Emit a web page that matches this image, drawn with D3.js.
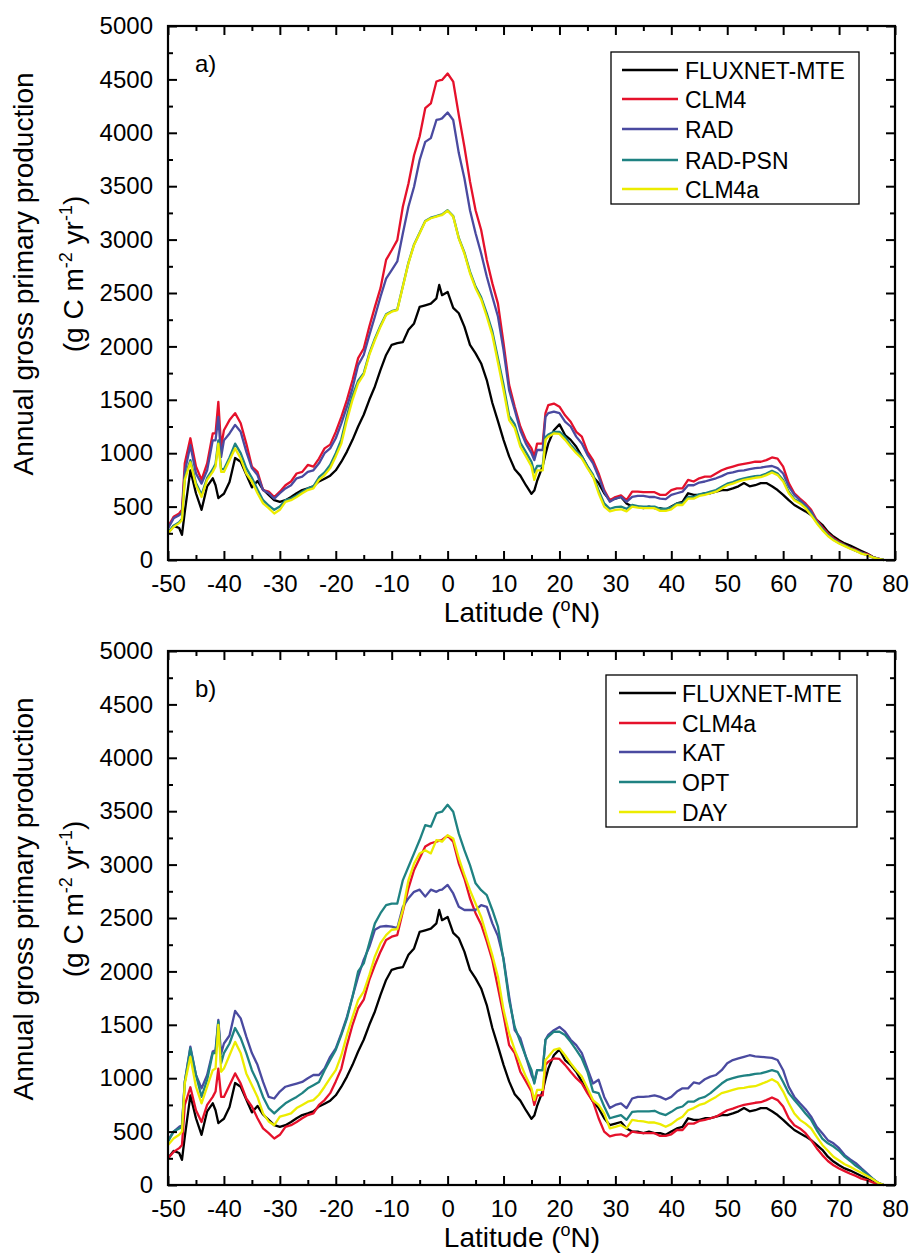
<!DOCTYPE html>
<html>
<head>
<meta charset="utf-8">
<script src="https://cdn.jsdelivr.net/npm/d3@7"></script>
<style>
  body { margin: 0; background: #fff; }
  text { font-family: "Liberation Sans", Arial, sans-serif; fill: #000; }
</style>
</head>
<body>
<div id="chart"></div>
<script>
// Latitude grid (deg N) shared by every series
const LAT = [
  -50, -49, -48, -47.5, -47, -46, -45, -44, -43, -42,
  -41.5, -41, -40.5, -40, -39, -38, -37, -36, -35, -34, -33, -32, -31, -30,
  -29, -28, -27, -26, -25, -24, -23, -22, -21, -20,
  -19, -18, -17, -16, -15, -14, -13, -12, -11, -10,
  -9, -8, -7, -6, -5, -4, -3, -2, -1.5, -1, 0,
  1, 2, 3, 4, 5, 6, 7, 8, 9, 10,
  11, 12, 13, 14, 15, 15.5, 16, 17, 17.5, 18,
  19, 20, 21, 22, 23, 24, 25, 26, 27, 28,
  29, 30, 31, 32, 33, 34, 35, 36, 37, 38,
  39, 40, 41, 42, 43, 44, 45, 46, 47, 48,
  49, 50, 51, 52, 53, 54, 55, 56, 57, 58,
  59, 60, 61, 62, 63, 64, 65, 66, 67, 68,
  69, 70, 71, 72, 73, 74, 75, 76, 77, 78
];

// Annual GPP (g C m-2 yr-1)
const FLUXNET_MTE = [
  250, 320, 300, 235, 450, 840, 625, 470, 690, 765,
  700, 580, 600, 620, 730, 955, 920, 800, 680, 740, 660, 610, 560, 545,
  560, 590, 625, 655, 670, 690, 735, 760, 790, 840,
  920, 1015, 1125, 1250, 1360, 1500, 1625, 1780, 1920, 2015,
  2030, 2040, 2155, 2215, 2370, 2385, 2400, 2450, 2575, 2480, 2510,
  2360, 2310, 2185, 2015, 1935, 1840, 1685, 1470, 1300, 1125,
  970, 850, 790, 700, 620, 650, 740, 880, 990, 1090,
  1215, 1270, 1170, 1125, 1060, 970, 875, 780, 720, 625,
  560, 575, 590, 530, 500, 500, 485, 500, 485, 485,
  470, 500, 530, 545, 625, 610, 610, 625, 625, 640,
  655, 655, 670, 690, 720, 690, 700, 720, 720, 690,
  655, 610, 560, 515, 485, 455, 420, 375, 330, 265,
  220, 185, 155, 135, 110, 85, 60, 30, 12, 0
];

const CLM4 = [
  310, 405, 435, 470, 905, 1140, 875, 750, 905, 1185,
  1185, 1480, 1060, 1215, 1310, 1375, 1280, 1090, 875, 825, 655, 640, 590, 640,
  700, 735, 810, 825, 890, 875, 950, 1045, 1080, 1200,
  1340, 1500, 1685, 1890, 1980, 2185, 2370, 2545, 2810, 2900,
  2995, 3310, 3525, 3790, 3965, 4230, 4275, 4480, 4490, 4495, 4555,
  4480, 4165, 3870, 3545, 3275, 3090, 2810, 2590, 2400, 2030,
  1640, 1435, 1250, 1125, 1045, 970, 1090, 1090, 1375, 1450,
  1465, 1435, 1355, 1295, 1200, 1155, 1015, 935, 810, 655,
  560, 590, 605, 560, 640, 640, 635, 635, 635, 610,
  610, 655, 670, 670, 750, 735, 765, 780, 780, 810,
  840, 860, 875, 890, 900, 910, 920, 920, 935, 960,
  950, 875, 720, 625, 575, 530, 470, 375, 310, 250,
  205, 170, 140, 115, 95, 70, 55, 30, 12, 0
];

const RAD = [
  295, 390, 420, 440, 825, 1075, 810, 715, 840, 1120,
  1120, 1340, 965, 1120, 1185, 1265, 1200, 1015, 860, 795, 655, 625, 575, 625,
  670, 700, 765, 780, 825, 840, 905, 1000, 1045, 1140,
  1280, 1435, 1610, 1825, 1920, 2105, 2280, 2465, 2635, 2715,
  2795, 3060, 3310, 3495, 3745, 3915, 3950, 4120, 4125, 4135, 4190,
  4120, 3810, 3575, 3275, 3060, 2870, 2655, 2465, 2280, 1965,
  1590, 1405, 1215, 1090, 1000, 935, 1030, 1030, 1340, 1375,
  1390, 1375, 1295, 1250, 1155, 1090, 985, 905, 780, 640,
  545, 575, 590, 545, 590, 600, 600, 590, 590, 575,
  570, 610, 625, 640, 700, 700, 725, 735, 750, 765,
  785, 810, 820, 835, 840, 850, 860, 865, 875, 880,
  860, 810, 690, 610, 560, 515, 455, 360, 295, 235,
  195, 160, 135, 110, 85, 70, 45, 25, 10, 0
];

const RAD_PSN = [
  260, 320, 355, 385, 770, 935, 720, 610, 770, 850,
  900, 1120, 850, 850, 960, 1090, 1000, 860, 770, 660, 560, 510, 470, 500,
  560, 575, 605, 640, 670, 690, 775, 820, 890, 1000,
  1130, 1350, 1540, 1680, 1750, 1935, 2075, 2195, 2300, 2330,
  2345, 2565, 2785, 2955, 3065, 3175, 3205, 3220, 3230, 3235, 3275,
  3220, 3015, 2880, 2700, 2560, 2460, 2310, 2140, 1890, 1640,
  1350, 1270, 1100, 1010, 920, 820, 880, 880, 1150, 1175,
  1200, 1200, 1150, 1080, 1020, 970, 880, 800, 650, 530,
  480, 495, 500, 480, 515, 505, 500, 500, 500, 480,
  480, 495, 530, 530, 590, 590, 615, 625, 640, 655,
  685, 715, 730, 750, 765, 775, 785, 790, 810, 835,
  810, 750, 640, 570, 540, 495, 430, 355, 290, 235,
  190, 160, 135, 110, 88, 63, 47, 27, 11, 0
];

const CLM4A = [
  250, 310, 345, 375, 750, 915, 700, 590, 750, 825,
  875, 1090, 825, 825, 935, 1045, 950, 810, 735, 625, 530, 485, 435, 470,
  545, 560, 590, 625, 655, 670, 750, 795, 860, 970,
  1090, 1310, 1500, 1655, 1735, 1920, 2060, 2185, 2295, 2325,
  2340, 2560, 2780, 2950, 3060, 3170, 3200, 3215, 3225, 3230, 3270,
  3215, 3010, 2870, 2685, 2545, 2440, 2280, 2105, 1850, 1590,
  1310, 1235, 1060, 970, 875, 750, 840, 840, 1125, 1155,
  1185, 1180, 1125, 1060, 1000, 950, 860, 780, 625, 500,
  455, 470, 475, 455, 500, 490, 485, 485, 485, 460,
  460, 475, 515, 515, 575, 575, 600, 610, 625, 640,
  670, 700, 715, 735, 750, 760, 770, 775, 795, 820,
  795, 735, 625, 560, 530, 485, 420, 345, 280, 225,
  185, 155, 130, 105, 85, 60, 45, 25, 10, 0
];

const KAT = [
  420, 500, 545, 560, 965, 1295, 1030, 905, 1030, 1250,
  1265, 1545, 1230, 1325, 1400, 1630, 1560, 1390, 1235, 1125, 965, 825, 810, 875,
  920, 935, 950, 965, 1000, 1030, 1030, 1090, 1200, 1280,
  1420, 1575, 1765, 1950, 2110, 2230, 2390, 2420, 2425, 2420,
  2405, 2605, 2685, 2745, 2765, 2700, 2765, 2745, 2760, 2765, 2810,
  2730, 2605, 2575, 2575, 2575, 2620, 2605, 2450, 2330, 2120,
  1765, 1450, 1375, 1200, 1030, 965, 1075, 1075, 1360, 1405,
  1450, 1480, 1435, 1360, 1310, 1235, 1090, 950, 985, 825,
  720, 750, 765, 720, 810, 825, 825, 830, 840, 825,
  800, 825, 875, 905, 905, 960, 950, 990, 1015, 1030,
  1075, 1140, 1170, 1185, 1200, 1215, 1205, 1200, 1195, 1190,
  1170, 1075, 920, 825, 765, 710, 640, 545, 485, 420,
  390, 345, 280, 240, 205, 155, 110, 60, 20, 0
];

const OPT = [
  405, 500, 530, 545, 965, 1280, 1030, 825, 985, 1235,
  1235, 1530, 1140, 1235, 1325, 1470, 1375, 1235, 1075, 965, 825, 720, 670, 720,
  765, 795, 825, 860, 905, 935, 965, 1075, 1170, 1265,
  1405, 1560, 1765, 2000, 2075, 2265, 2450, 2545, 2620, 2635,
  2635, 2855, 2980, 3105, 3230, 3370, 3355, 3480, 3490, 3495, 3560,
  3495, 3290, 3135, 2995, 2825, 2760, 2715, 2575, 2420, 2105,
  1730, 1480, 1340, 1200, 1075, 950, 1075, 1075, 1360, 1390,
  1435, 1435, 1405, 1340, 1265, 1185, 1060, 875, 860, 735,
  625, 640, 655, 610, 685, 690, 690, 690, 695, 670,
  655, 685, 720, 735, 780, 780, 810, 825, 860, 905,
  950, 985, 1000, 1015, 1025, 1030, 1040, 1045, 1060, 1075,
  1060, 965, 860, 795, 735, 670, 610, 515, 435, 390,
  360, 320, 265, 225, 180, 145, 100, 60, 20, 0
];

const DAY = [
  375, 435, 470, 500, 950, 1200, 920, 765, 920, 1075,
  1090, 1500, 1060, 1090, 1215, 1340, 1235, 1045, 935, 825, 670, 595, 560, 640,
  655, 670, 720, 750, 780, 795, 845, 920, 1000, 1075,
  1215, 1405, 1575, 1730, 1810, 1965, 2140, 2265, 2340, 2390,
  2395, 2575, 2855, 3010, 3105, 3135, 3105, 3230, 3225, 3215, 3275,
  3245, 3060, 2905, 2760, 2635, 2510, 2330, 2150, 1950, 1640,
  1420, 1265, 1140, 1015, 905, 795, 890, 890, 1170, 1200,
  1265, 1280, 1215, 1140, 1075, 1015, 905, 795, 750, 670,
  530, 545, 560, 530, 610, 600, 595, 585, 585, 570,
  545, 570, 610, 640, 700, 720, 750, 765, 795, 825,
  860, 875, 890, 905, 910, 920, 925, 945, 965, 990,
  960, 875, 765, 670, 610, 575, 530, 450, 375, 320,
  265, 230, 195, 170, 140, 115, 85, 55, 20, 0
];

const X_MAJOR = [-50, -40, -30, -20, -10, 0, 10, 20, 30, 40, 50, 60, 70, 80];
const X_MINOR = [-45, -35, -25, -15, -5, 5, 15, 25, 35, 45, 55, 65, 75];
const Y_MAJOR = [0, 500, 1000, 1500, 2000, 2500, 3000, 3500, 4000, 4500, 5000];
const Y_MINOR = [250, 750, 1250, 1750, 2250, 2750, 3250, 3750, 4250, 4750];

const COLORS = {
    black: '#000000',
    red: '#e5112b',
    blue: '#4a4aa0',
    teal: '#1f8282',
    yellow: '#ecec00'
};

const panels = [
    {
        label: 'a)', top: 26, bottom: 560,
        legend: { x0: 611, x1: 859, y0: 52, y1: 204, lineX0: 622, lineX1: 678, textX: 685,
                  rows: [70, 99, 129, 160, 189] },
        series: [
            { name: 'FLUXNET-MTE', values: FLUXNET_MTE, color: COLORS.black },
            { name: 'CLM4', values: CLM4, color: COLORS.red },
            { name: 'RAD', values: RAD, color: COLORS.blue },
            { name: 'RAD-PSN', values: RAD_PSN, color: COLORS.teal },
            { name: 'CLM4a', values: CLM4A, color: COLORS.yellow }
        ]
    },
    {
        label: 'b)', top: 651, bottom: 1185,
        legend: { x0: 606, x1: 857, y0: 675, y1: 827, lineX0: 619, lineX1: 676, textX: 682,
                  rows: [693, 723, 752, 782, 812] },
        series: [
            { name: 'FLUXNET-MTE', values: FLUXNET_MTE, color: COLORS.black },
            { name: 'CLM4a', values: CLM4A, color: COLORS.red },
            { name: 'KAT', values: KAT, color: COLORS.blue },
            { name: 'OPT', values: OPT, color: COLORS.teal },
            { name: 'DAY', values: DAY, color: COLORS.yellow }
        ]
    }
];

const svg = d3.select('#chart')
    .append('svg')
    .attr('width', 911)
    .attr('height', 1259);

function drawPanel(p) {
    const x = d3.scaleLinear().domain([-50, 80]).range([168, 895]);
    const y = d3.scaleLinear().domain([0, 5000]).range([p.bottom, p.top]);
    const g = svg.append('g');

    // data lines
    const line = d3.line()
        .x((d, i) => x(LAT[i]))
        .y(d => y(d));

    p.series.forEach(s => {
        g.append('path')
            .datum(s.values)
            .attr('d', line)
            .attr('fill', 'none')
            .attr('stroke', s.color)
            .attr('stroke-width', 2.3)
            .attr('stroke-linejoin', 'round');
    });

    // ticks on all four sides, pointing inward
    const fmt = d => String(d);
    const addAxis = (axis, tx, ty, labels) => {
        const a = g.append('g')
            .attr('transform', `translate(${tx},${ty})`)
            .call(axis);
        a.select('.domain').remove();
        a.selectAll('line').attr('stroke', '#000').attr('stroke-width', 2);
        a.selectAll('text').attr('font-size', 24).attr('font-family', '"Liberation Sans", Arial, sans-serif');
        if (!labels) a.selectAll('text').remove();
        return a;
    };

    addAxis(d3.axisBottom(x).tickValues(X_MAJOR).tickSize(-9).tickPadding(15).tickFormat(fmt), 0, p.bottom, true);
    addAxis(d3.axisBottom(x).tickValues(X_MINOR).tickSize(-5), 0, p.bottom, false);
    addAxis(d3.axisTop(x).tickValues(X_MAJOR).tickSize(-9), 0, p.top, false);
    addAxis(d3.axisTop(x).tickValues(X_MINOR).tickSize(-5), 0, p.top, false);
    addAxis(d3.axisLeft(y).tickValues(Y_MAJOR).tickSize(-9).tickPadding(15).tickFormat(fmt), 168, 0, true);
    addAxis(d3.axisLeft(y).tickValues(Y_MINOR).tickSize(-5), 168, 0, false);
    addAxis(d3.axisRight(y).tickValues(Y_MAJOR).tickSize(-9), 895, 0, false);
    addAxis(d3.axisRight(y).tickValues(Y_MINOR).tickSize(-5), 895, 0, false);

    // frame
    g.append('rect')
        .attr('x', 168).attr('y', p.top)
        .attr('width', 895 - 168).attr('height', p.bottom - p.top)
        .attr('fill', 'none')
        .attr('stroke', '#000')
        .attr('stroke-width', 2.2);

    // panel label
    g.append('text')
        .attr('x', 195).attr('y', p.top + 46)
        .attr('font-size', 24)
        .text(p.label);

    // legend
    const L = p.legend;
    g.append('rect')
        .attr('x', L.x0).attr('y', L.y0)
        .attr('width', L.x1 - L.x0).attr('height', L.y1 - L.y0)
        .attr('fill', '#fff')
        .attr('stroke', '#000')
        .attr('stroke-width', 1.3);

    p.series.forEach((s, i) => {
        g.append('line')
            .attr('x1', L.lineX0).attr('x2', L.lineX1)
            .attr('y1', L.rows[i]).attr('y2', L.rows[i])
            .attr('stroke', s.color)
            .attr('stroke-width', 2.3);
        g.append('text')
            .attr('x', L.textX).attr('y', L.rows[i] + 8.5)
            .attr('font-size', 23)
            .text(s.name);
    });

    // y-axis title (two lines)
    const midY = p.top + 248;
    const t1 = g.append('text')
        .attr('transform', `translate(33,${midY}) rotate(-90)`)
        .attr('text-anchor', 'middle')
        .attr('font-size', 28)
        .text('Annual gross primary production');

    const t2 = g.append('text')
        .attr('transform', `translate(83,${midY}) rotate(-90)`)
        .attr('text-anchor', 'middle')
        .attr('font-size', 28);
    t2.append('tspan').text('(g C m');
    t2.append('tspan').attr('dy', -11).attr('font-size', 18).text('-2');
    t2.append('tspan').attr('dy', 11).text(' yr');
    t2.append('tspan').attr('dy', -11).attr('font-size', 18).text('-1');
    t2.append('tspan').attr('dy', 11).text(')');

    // x-axis title
    const xt = g.append('text')
        .attr('x', 522).attr('y', p.bottom + 62)
        .attr('text-anchor', 'middle')
        .attr('font-size', 28);
    xt.append('tspan').text('Latitude (');
    xt.append('tspan').attr('dy', -11).attr('font-size', 18).text('o');
    xt.append('tspan').attr('dy', 11).text('N)');
}

panels.forEach(drawPanel);
</script>
</body>
</html>
